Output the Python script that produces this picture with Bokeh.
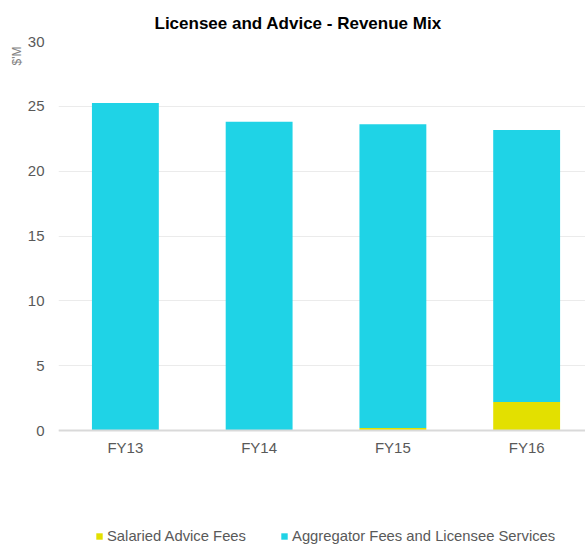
from bokeh.plotting import figure
from bokeh.models import ColumnDataSource, Legend, LegendItem, Title, FixedTicker, Range1d, LinearAxis
from bokeh.embed import file_html
from bokeh.resources import INLINE

years = ["FY13", "FY14", "FY15", "FY16"]
salaried = [0.0, 0.0, 0.2, 2.2]
aggregator = [25.26, 23.82, 23.42, 20.98]
series = ["Salaried Advice Fees", "Aggregator Fees and Licensee Services"]
colors = ["#E3E000", "#1FD3E6"]
y_ticks = [0, 5, 10, 15, 20, 25, 30]

xpos = [i + 0.5 for i in range(len(years))]
source = ColumnDataSource(data=dict(x=xpos, salaried=salaried, aggregator=aggregator))

FONT = "Liberation Sans"

# frame spans 41..545 px; value 0 sits at 430 px, 30 at 41 px
p = figure(x_range=Range1d(0, 3.94), y_range=Range1d(-30 * 115 / 389, 30), width=585, height=545,
           output_backend="svg", toolbar_location=None, x_axis_location=None,
           min_border_left=58, min_border_right=0, min_border_top=41, min_border_bottom=0)
p.outline_line_color = None

r = p.vbar_stack(["salaried", "aggregator"], x="x", width=0.5, color=colors,
                 source=source, line_color=None)

p.title.text = "Licensee and Advice - Revenue Mix"
p.title.align = "left"
p.title.offset = 96
p.title.text_font = FONT
p.title.text_font_size = "17px"
p.title.text_font_style = "bold"
p.title.text_color = "#000000"
p.title.vertical_align = "top"
p.title.standoff = 14

p.yaxis.ticker = FixedTicker(ticks=y_ticks)
p.yaxis.axis_line_color = None
p.yaxis.major_tick_line_color = None
p.yaxis.major_tick_out = 0
p.yaxis.major_tick_in = 0
p.yaxis.minor_tick_line_color = None
p.yaxis.major_label_text_font = FONT
p.yaxis.major_label_text_font_size = "15px"
p.yaxis.major_label_text_color = "#595959"
p.yaxis.major_label_standoff = 14

xaxis = LinearAxis(ticker=FixedTicker(ticks=xpos), fixed_location=0,
                   major_label_overrides={x: y for x, y in zip(xpos, years)},
                   axis_line_color="#D9D9D9", axis_line_width=2,
                   major_tick_line_color=None, major_tick_out=0, major_tick_in=0,
                   minor_tick_line_color=None, major_label_text_font=FONT,
                   major_label_text_font_size="15px", major_label_text_color="#595959",
                   major_label_standoff=8)
p.add_layout(xaxis, "below")

p.xgrid.grid_line_color = None
p.ygrid.grid_line_color = "#EBEBEB"

ylab = Title(text="$'M", align="right", offset=5, text_font=FONT, text_font_size="12px",
             text_color="#7F7F7F", text_font_style="normal", standoff=2)
p.add_layout(ylab, "left")

legend = Legend(items=[LegendItem(label=series[0], renderers=[r[0]]),
                       LegendItem(label=series[1], renderers=[r[1]])],
                orientation="horizontal", location=(37, 1),
                label_text_font=FONT, label_text_font_size="14.8px",
                label_text_color="#595959", glyph_width=8, glyph_height=8,
                label_standoff=4, spacing=34, border_line_color=None,
                background_fill_alpha=0, margin=0, padding=0, label_height=15)
p.add_layout(legend, "center")

open("out.html", "w").write(file_html(p, INLINE))
